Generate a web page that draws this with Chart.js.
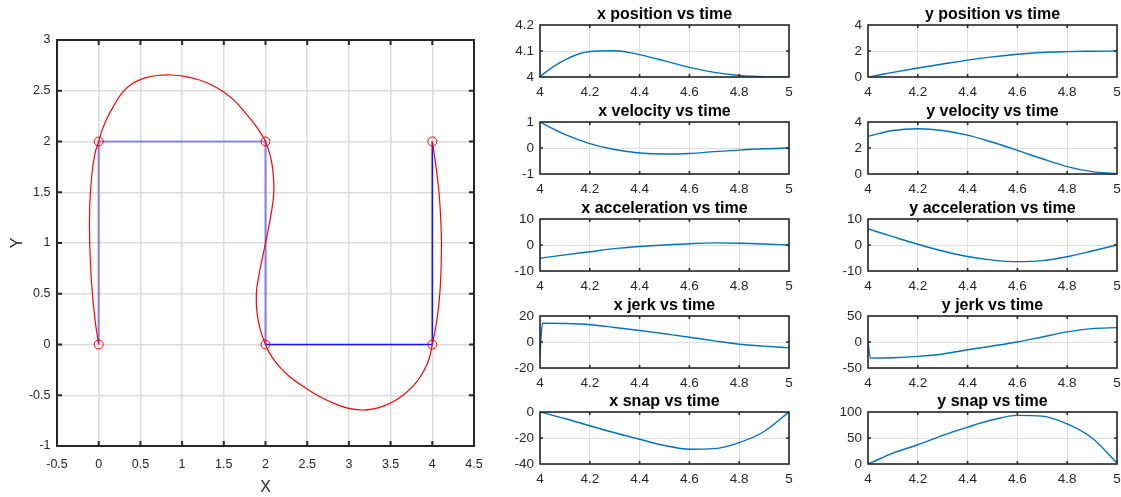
<!DOCTYPE html>
<html lang="en">
<head>
  <meta charset="UTF-8">
  <title>Trajectory</title>
  <script src="https://cdn.jsdelivr.net/npm/chart.js"></script>
  <style>
    body { margin: 0; background: #fff; width: 1121px; height: 497px; overflow: hidden; position: relative; }
    canvas { position: absolute; }
  </style>
</head>
<body>
  <canvas id="pathChart" width="490" height="497" style="left:0;top:0"></canvas>

  <script>
    // waypoints (blue polyline + red circles)
    const wayX = [0, 0, 2, 2, 4, 4];
    const wayY = [0, 2, 2, 0, 0, 2];

    // red trajectory
    const pathX = [0, -0.045, -0.085, -0.108, -0.108, -0.085, -0.045, 0,
      0.04, 0.1, 0.18, 0.28, 0.4, 0.55, 0.7, 0.87, 1.03, 1.2, 1.36, 1.5, 1.63, 1.75, 1.86, 1.94, 2,
      2.06, 2.09, 2.1, 2.07, 2.02, 1.97, 1.92, 1.89, 1.9, 1.94, 2,
      2.04, 2.1, 2.18, 2.28, 2.4, 2.55, 2.7, 2.85, 3.0, 3.14, 3.28, 3.42, 3.55, 3.67, 3.78, 3.87, 3.94, 3.98, 4,
      4.03, 4.06, 4.09, 4.105, 4.11, 4.1, 4.08, 4.04, 4.015, 4];
    const pathY = [0, 0.25, 0.6, 1.0, 1.35, 1.65, 1.88, 2,
      2.11, 2.23, 2.35, 2.48, 2.57, 2.625, 2.65, 2.655, 2.642, 2.608, 2.555, 2.487, 2.4, 2.29, 2.18, 2.085, 2,
      1.85, 1.7, 1.5, 1.3, 1.08, 0.88, 0.68, 0.5, 0.3, 0.14, 0,
      -0.07, -0.15, -0.23, -0.31, -0.385, -0.465, -0.535, -0.59, -0.63, -0.645, -0.637, -0.605, -0.555, -0.485, -0.4, -0.3, -0.19, -0.085, 0,
      0.12, 0.27, 0.5, 0.75, 1.0, 1.25, 1.5, 1.78, 1.92, 2];

    // last segment, t = 4..5
    const T = [4, 4.01, 4.1, 4.2, 4.3, 4.4, 4.5, 4.6, 4.7, 4.8, 4.9, 5];
    const xPos = [4.0, 4.009, 4.066, 4.098, 4.101, 4.086, 4.062, 4.037, 4.018, 4.006, 4.001, 4.0];
    const xVel = [1.0, 0.95, 0.52, 0.17, -0.06, -0.19, -0.23, -0.21, -0.14, -0.08, -0.03, 0];
    const xAcc = [-5.1, -4.95, -3.8, -2.6, -1.4, -0.6, 0, 0.5, 0.8, 0.7, 0.4, 0];
    const xJerk = [-10, 14.5, 14.2, 13.3, 11.2, 8.9, 6.3, 3.7, 0.9, -1.7, -3.2, -4.5];
    const xSnap = [0, -0.5, -5, -10.6, -16, -21, -25.8, -28.6, -28.2, -23.5, -15, 0];
    const yPos = [0, 0.03, 0.36, 0.69, 1.0, 1.3, 1.55, 1.75, 1.89, 1.95, 1.98, 2.0];
    const yVel = [2.9, 2.95, 3.35, 3.48, 3.35, 2.99, 2.44, 1.82, 1.17, 0.57, 0.18, 0.03];
    const yAcc = [6.2, 5.9, 3.2, 0.3, -2.3, -4.4, -5.8, -6.4, -6.0, -4.5, -2.3, 0];
    const yJerk = [0, -31, -30.3, -27.7, -23, -15, -7.7, 0, 9.7, 19.4, 25.8, 27.7];
    const ySnap = [0, 2, 21, 37, 55, 71, 85, 93.6, 92, 77, 50, 2];

    const FONT = "'Liberation Sans', Arial, sans-serif";
    const INK = '#262626';
    const fmt = v => String(+v.toFixed(2));

    // matlab-ish box with inward ticks
    const boxPlugin = {
      id: 'mbox',
      afterDatasetsDraw(chart, args, opts) {
        const { ctx, chartArea: a, scales } = chart;
        const len = opts.tick;
        ctx.save();
        ctx.strokeStyle = INK;
        ctx.lineWidth = opts.width;
        ctx.beginPath();
        scales.x.ticks.forEach(t => {
          const px = scales.x.getPixelForValue(t.value);
          if (px > a.left + 1 && px < a.right - 1) {
            ctx.moveTo(px, a.bottom); ctx.lineTo(px, a.bottom - len);
            ctx.moveTo(px, a.top); ctx.lineTo(px, a.top + len);
          }
        });
        scales.y.ticks.forEach(t => {
          const py = scales.y.getPixelForValue(t.value);
          if (py > a.top + 1 && py < a.bottom - 1) {
            ctx.moveTo(a.left, py); ctx.lineTo(a.left + len, py);
            ctx.moveTo(a.right, py); ctx.lineTo(a.right - len, py);
          }
        });
        ctx.stroke();
        ctx.strokeRect(a.left, a.top, a.right - a.left, a.bottom - a.top);
        if (opts.title) {
          ctx.fillStyle = '#000';
          ctx.font = 'bold 16px ' + FONT;
          ctx.textAlign = 'center';
          ctx.textBaseline = 'alphabetic';
          ctx.fillText(opts.title, (a.left + a.right) / 2, a.top - 6);
        }
        ctx.restore();
      }
    };

    const pts = (xs, ys) => xs.map((x, i) => ({ x: x, y: ys[i] }));
    const noSidePad = s => { s.paddingLeft = 0; s.paddingRight = 0; };

    // big X-Y plot
    new Chart(document.getElementById('pathChart'), {
      type: 'scatter',
      data: {
        datasets: [
          { data: pts(wayX, wayY), showLine: false, pointRadius: 4.5, pointBorderColor: '#ff0000',
            pointBackgroundColor: 'rgba(0,0,0,0)', pointBorderWidth: 1 },
          { data: pts(pathX, pathY), showLine: true, borderColor: '#ff0000', borderWidth: 1.2,
            pointRadius: 0, tension: 0.4 },
          { data: pts(wayX.slice(3), wayY.slice(3)), showLine: true, borderColor: '#1010ff',
            borderWidth: 1.6, pointRadius: 0 },
          { data: pts(wayX.slice(0, 4), wayY.slice(0, 4)), showLine: true, borderColor: 'rgba(40,40,255,0.5)',
            borderWidth: 2.2, pointRadius: 0 }
        ]
      },
      options: {
        responsive: false, animation: false, events: [],
        layout: { padding: { top: 40, right: 16, left: 0, bottom: 0 } },
        plugins: { legend: { display: false }, tooltip: { enabled: false }, mbox: { tick: 5, width: 2 } },
        scales: {
          x: {
            type: 'linear', min: -0.5, max: 4.5,
            ticks: { stepSize: 0.5, padding: 11, color: INK, font: { family: FONT, size: 12.5 }, callback: fmt },
            grid: { color: '#dcdcdc', lineWidth: 1.5, drawTicks: false },
            border: { display: false },
            title: { display: true, text: 'X', color: INK, font: { family: FONT, size: 16 }, padding: { top: 0, bottom: 0 } },
            afterFit: s => { s.height = 51; noSidePad(s); }
          },
          y: {
            type: 'linear', min: -1, max: 3,
            ticks: { stepSize: 0.5, padding: 6.5, color: INK, font: { family: FONT, size: 12.5 }, callback: fmt },
            grid: { color: '#dcdcdc', lineWidth: 1.5, drawTicks: false },
            border: { display: false },
            title: { display: true, text: 'Y', color: INK, font: { family: FONT, size: 16 }, padding: { top: 8, bottom: 0 } },
            afterFit: s => { s.width = 57; }
          }
        }
      },
      plugins: [boxPlugin]
    });

    // small time plots
    const rowTops = [25, 122, 219, 316, 412];
    const colLefts = [540, 868];
    const panels = [
      { title: 'x position vs time', vals: xPos, min: 4, max: 4.2, step: 0.1, col: 0, row: 0 },
      { title: 'x velocity vs time', vals: xVel, min: -1, max: 1, step: 1, col: 0, row: 1 },
      { title: 'x acceleration vs time', vals: xAcc, min: -10, max: 10, step: 10, col: 0, row: 2 },
      { title: 'x jerk vs time', vals: xJerk, min: -20, max: 20, step: 20, col: 0, row: 3 },
      { title: 'x snap vs time', vals: xSnap, min: -40, max: 0, step: 20, col: 0, row: 4 },
      { title: 'y position vs time', vals: yPos, min: 0, max: 4, step: 2, col: 1, row: 0 },
      { title: 'y velocity vs time', vals: yVel, min: 0, max: 4, step: 2, col: 1, row: 1 },
      { title: 'y acceleration vs time', vals: yAcc, min: -10, max: 10, step: 10, col: 1, row: 2 },
      { title: 'y jerk vs time', vals: yJerk, min: -50, max: 50, step: 50, col: 1, row: 3 },
      { title: 'y snap vs time', vals: ySnap, min: 0, max: 100, step: 50, col: 1, row: 4 }
    ];

    panels.forEach(p => {
      const cv = document.createElement('canvas');
      const rightPad = 4;
      cv.width = 45 + 249 + rightPad;
      cv.height = 98;
      cv.style.left = (colLefts[p.col] - 45) + 'px';
      cv.style.top = (rowTops[p.row] - 25) + 'px';
      document.body.appendChild(cv);

      new Chart(cv, {
        type: 'line',
        data: {
          datasets: [{ data: pts(T, p.vals), borderColor: '#0072bd', borderWidth: 1.4,
            pointRadius: 0, cubicInterpolationMode: 'monotone' }]
        },
        options: {
          responsive: false, animation: false, events: [],
          layout: { padding: { top: 25, right: rightPad, left: 0, bottom: 0 } },
          plugins: {
            legend: { display: false }, tooltip: { enabled: false },
            mbox: { tick: 3, width: 1.6, title: p.title }
          },
          scales: {
            x: {
              type: 'linear', min: 4, max: 5,
              ticks: { stepSize: 0.2, padding: 7.5, color: INK, font: { family: FONT, size: 13.5 }, callback: fmt },
              grid: { color: '#dedede', lineWidth: 1, drawTicks: false },
              border: { display: false },
              afterFit: s => { s.height = 21; noSidePad(s); }
            },
            y: {
              type: 'linear', min: p.min, max: p.max,
              ticks: { stepSize: p.step, padding: 6, color: INK, font: { family: FONT, size: 13.5 }, callback: fmt },
              grid: { color: '#dedede', lineWidth: 1, drawTicks: false },
              border: { display: false },
              afterFit: s => { s.width = 45; }
            }
          }
        },
        plugins: [boxPlugin]
      });
    });
  </script>
</body>
</html>
